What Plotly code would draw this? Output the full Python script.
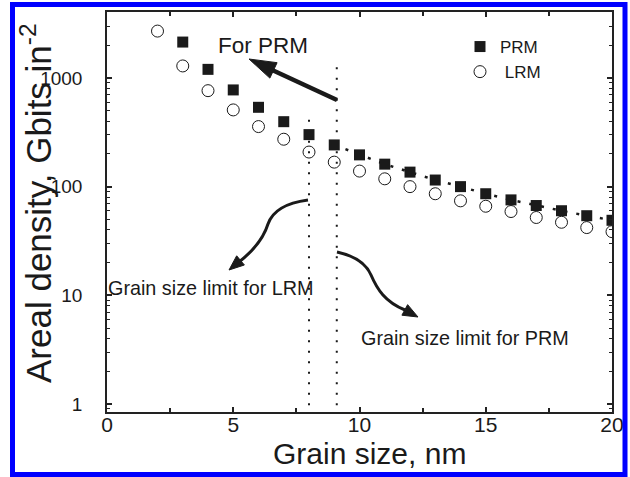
import math
import plotly.graph_objects as go

# ---------------- data ----------------
grain_prm = [3, 4, 5, 6, 7, 8, 9, 10, 11, 12, 13, 14, 15, 16, 17, 18, 19, 20]
density_prm = [2140, 1200, 776, 537, 396, 301, 242, 196, 161, 136, 115, 100, 86, 75.5, 67, 60, 54, 49]
grain_lrm = [2, 3, 4, 5, 6, 7, 8, 9, 10, 11, 12, 13, 14, 15, 16, 17, 18, 19, 20]
density_lrm = [2700, 1290, 764, 508, 357, 273, 208, 168, 139, 118, 100, 86, 74, 66, 59, 52, 47, 42, 38.5]
fit_start = 9                      # dotted guide through PRM from this grain size
limit_x = [8.0, 9.1]               # grain size limits (LRM, PRM)
limit_top = [440, 1440]            # top of the dotted limit lines
x_ticks = [0, 5, 10, 15, 20]
y_ticks = [1, 10, 100, 1000]

# ---------------- layout geometry ----------------
W, H = 630, 477
L, R, T, B = 107, 18, 12, 65
PW, PH = W - L - R, H - T - B


def px(xp):
    return (xp - L) / PW


def py(yp):
    return (H - B - yp) / PH


def head_path(tip, tail, length, half):
    """Filled triangular arrow head (pixel geometry -> paper path)."""
    dx, dy = tip[0] - tail[0], tip[1] - tail[1]
    n = math.hypot(dx, dy)
    ux, uy = dx / n, dy / n
    bx, by = tip[0] - length * ux, tip[1] - length * uy
    nx, ny = -uy, ux
    p1 = (bx + half * nx, by + half * ny)
    p2 = (bx - half * nx, by - half * ny)
    return "M {:.4f},{:.4f} L {:.4f},{:.4f} L {:.4f},{:.4f} Z".format(
        px(tip[0]), py(tip[1]), px(p1[0]), py(p1[1]), px(p2[0]), py(p2[1]))


def curve_path(pts):
    s = "M {:.4f},{:.4f}".format(px(pts[0][0]), py(pts[0][1]))
    for i in range(1, len(pts), 3):
        s += " C " + " ".join("{:.4f},{:.4f}".format(px(a), py(b)) for a, b in pts[i:i + 3])
    return s


FONT = "Liberation Sans, Arial, Helvetica, sans-serif"
INK = "#1a1a1a"

fig = go.Figure()

# dotted limit lines
for lx, lt in zip(limit_x, limit_top):
    fig.add_trace(go.Scatter(
        x=[lx, lx], y=[0.5, lt], mode="lines",
        line=dict(color=INK, width=2, dash="2px,8.5px"),
        showlegend=False, hoverinfo="skip"))

# dotted guide through PRM points
sel = [i for i, g in enumerate(grain_prm) if g >= fit_start]
fig.add_trace(go.Scatter(
    x=[grain_prm[i] for i in sel], y=[density_prm[i] for i in sel],
    mode="lines", line=dict(color=INK, width=2.5, dash="3px,9px"),
    showlegend=False, hoverinfo="skip"))

fig.add_trace(go.Scatter(
    x=grain_prm, y=density_prm, mode="markers", name="PRM",
    marker=dict(symbol="square", size=11, color=INK)))
fig.add_trace(go.Scatter(
    x=grain_lrm, y=density_lrm, mode="markers", name=" LRM",
    marker=dict(symbol="circle-open", size=12, color=INK, line=dict(width=1))))

shapes = [
    # blue frame
    dict(type="rect", xref="paper", yref="paper",
         x0=px(12.5), x1=px(625), y0=py(474.5), y1=py(4.5),
         line=dict(color="#0000ff", width=5), fillcolor="rgba(0,0,0,0)", layer="above"),
    # straight arrow "For PRM"
    dict(type="line", xref="paper", yref="paper",
         x0=px(337), y0=py(100), x1=px(270), y1=py(69), line=dict(color=INK, width=4.5)),
    dict(type="path", xref="paper", yref="paper",
         path=head_path((249, 59), (337, 100), 27, 8.5),
         fillcolor=INK, line=dict(color=INK, width=1)),
    # curved arrow (LRM)
    dict(type="path", xref="paper", yref="paper",
         path=curve_path([(308, 200), (286, 203), (273, 210), (268, 224),
                          (263, 240), (253, 251), (239, 262)]),
         line=dict(color=INK, width=3)),
    dict(type="path", xref="paper", yref="paper",
         path=head_path((229, 270), (241, 260), 15, 6),
         fillcolor=INK, line=dict(color=INK, width=1)),
    # curved arrow (PRM)
    dict(type="path", xref="paper", yref="paper",
         path=curve_path([(337, 252), (355, 256), (366, 263), (371, 275),
                          (377, 289), (385, 302), (405, 310)]),
         line=dict(color=INK, width=3)),
    dict(type="path", xref="paper", yref="paper",
         path=head_path((418, 317), (404, 309.5), 15, 6),
         fillcolor=INK, line=dict(color=INK, width=1)),
]

annotations = [
    dict(xref="paper", yref="paper", x=px(263), y=py(46), text="For PRM", showarrow=False,
         xanchor="center", yanchor="middle", font=dict(family=FONT, size=22.5, color=INK)),
    dict(xref="paper", yref="paper", x=px(106), y=py(288), text="Grain size limit for LRM",
         showarrow=False, xanchor="left", yanchor="middle",
         font=dict(family=FONT, size=19.8, color=INK)),
    dict(xref="paper", yref="paper", x=px(359), y=py(338), text="Grain size limit for PRM",
         showarrow=False, xanchor="left", yanchor="middle",
         font=dict(family=FONT, size=19.8, color=INK)),
    # axis titles
    dict(xref="paper", yref="paper", x=px(369), y=py(453), text="Grain size, nm",
         showarrow=False, xanchor="center", yanchor="middle",
         font=dict(family=FONT, size=30, color=INK)),
    dict(xref="paper", yref="paper", x=px(36), y=py(203),
         text="Areal density, Gbits in<sup>-2</sup>", textangle=-90,
         showarrow=False, xanchor="center", yanchor="middle",
         font=dict(family=FONT, size=35, color=INK)),
]

fig.update_layout(
    width=W, height=H,
    margin=dict(l=L, r=R, t=T, b=B),
    paper_bgcolor="white", plot_bgcolor="white",
    font=dict(family=FONT, color=INK),
    shapes=shapes, annotations=annotations,
    showlegend=True,
    legend=dict(x=px(460), y=py(29), xanchor="left", yanchor="top",
                bgcolor="rgba(0,0,0,0)", borderwidth=0,
                font=dict(family=FONT, size=17, color=INK), tracegroupgap=0),
    xaxis=dict(
        range=[0, 20], tickvals=x_ticks, ticktext=[str(v) for v in x_ticks],
        showgrid=False, zeroline=False, showline=True, linecolor="#222", linewidth=1.5,
        mirror="ticks", ticks="inside", ticklen=5, tickwidth=1.5, tickcolor="#222",
        minor=dict(tickvals=[2.5, 7.5, 12.5, 17.5], ticks="inside", ticklen=4,
                   tickwidth=1.5, tickcolor="#222", showgrid=False),
        tickfont=dict(family=FONT, size=21, color=INK), ticklabelstandoff=-7,
        automargin=False),
    yaxis=dict(
        type="log", range=[-0.074, 3.607], tickvals=y_ticks, ticktext=[str(v) for v in y_ticks],
        showgrid=False, zeroline=False, showline=True, linecolor="#222", linewidth=1.5,
        mirror="ticks", ticks="inside", ticklen=5, tickwidth=1.5, tickcolor="#222",
        minor=dict(dtick="D1", ticks="inside", ticklen=3, tickwidth=1.2,
                   tickcolor="#222", showgrid=False),
        tickfont=dict(family=FONT, size=19, color=INK), ticklabelstandoff=19,
        automargin=False),
)

fig.write_html("out.html")
